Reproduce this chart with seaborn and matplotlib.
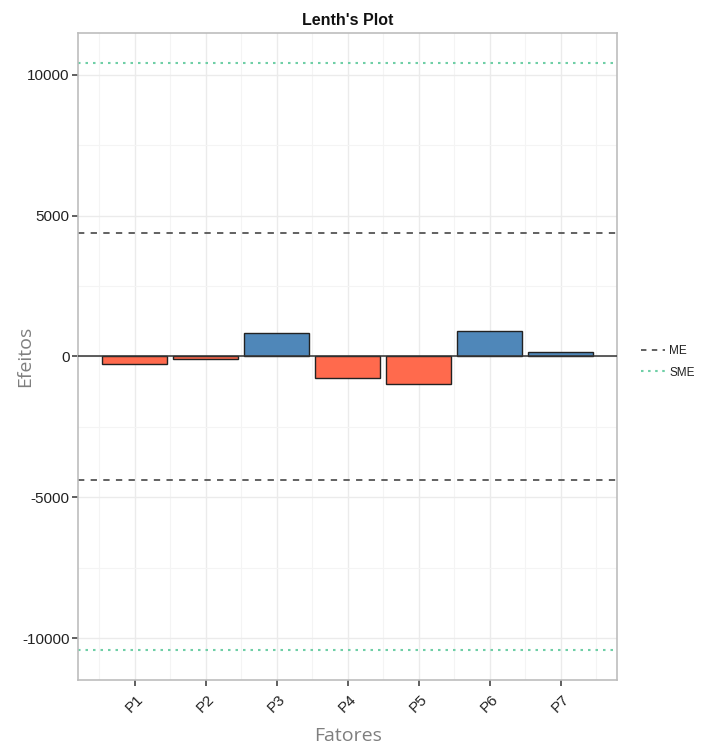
import matplotlib
matplotlib.use("Agg")
import matplotlib.pyplot as plt
from matplotlib.lines import Line2D
from matplotlib.ticker import MultipleLocator
import pandas as pd
import seaborn as sns

# Factor effects
factors = ["P1", "P2", "P3", "P4", "P5", "P6", "P7"]
effects = [-250, -90, 820, -770, -980, 890, 160]

# Lenth margins of error
me = 4380
sme = 10430

df = pd.DataFrame({"Fatores": factors, "Efeitos": effects})
df["sinal"] = ["pos" if v > 0 else "neg" for v in df["Efeitos"]]

sns.set_theme(style="white")
plt.rcParams["font.family"] = ["Liberation Sans", "DejaVu Sans"]
plt.rcParams["axes.unicode_minus"] = False

fig = plt.figure(figsize=(7.03, 7.46), dpi=100)
ax = fig.add_axes([0.111, 0.0885, 0.767, 0.8673])

sns.barplot(data=df, x="Fatores", y="Efeitos", hue="sinal",
            palette={"pos": "#4F87B9", "neg": "#FF6A4D"}, saturation=1,
            order=factors, dodge=False, width=0.92, legend=False,
            edgecolor="#222222", linewidth=1.0, ax=ax, zorder=3)

ax.axhline(0, color="#333333", lw=1.1, zorder=4)
for s in (1, -1):
    ax.axhline(s * me, color="#555555", lw=1.3, ls=(0, (3.5, 3.5)), zorder=2)
    ax.axhline(s * sme, color="#6FCFA6", lw=1.5, ls=(0, (1.2, 2.4)), zorder=2)

ax.set_xlim(-0.795, 6.795)
ax.set_ylim(-11480, 11480)
ax.yaxis.set_major_locator(MultipleLocator(5000))
ax.yaxis.set_minor_locator(MultipleLocator(2500))
ax.set_xticks(range(len(factors)), minor=False)
ax.set_xticks([i + 0.5 for i in range(-1, len(factors))], minor=True)

ax.grid(True, which="major", color="#EBEBEB", lw=1.0, zorder=0)
ax.grid(True, which="minor", color="#F4F4F4", lw=0.8, zorder=0)
ax.set_axisbelow(True)

for sp in ax.spines.values():
    sp.set_color("#BDBDBD")
    sp.set_linewidth(1.2)

ax.tick_params(axis="both", which="major", length=4, width=1.2, color="#444444",
               labelsize=11, labelcolor="#222222", pad=2, bottom=True, left=True)
ax.tick_params(axis="x", which="major", pad=5)
ax.tick_params(axis="both", which="minor", length=0)
for lab in ax.get_xticklabels():
    lab.set_rotation(45)
    lab.set_ha("center")
    lab.set_va("top")

ax.set_xlabel("Fatores", fontsize=14, color="#7F7F7F",
              family=["Open Sans", "DejaVu Sans"])
ax.set_ylabel("Efeitos", fontsize=14, color="#7F7F7F",
              family=["Open Sans", "DejaVu Sans"])
ax.yaxis.set_label_coords(-0.082, 0.5)
ax.xaxis.set_label_coords(0.5, -0.072)
ax.set_title("Lenth's Plot", fontsize=11.5, fontweight="bold", color="#111111", pad=6)

handles = [
    Line2D([], [], color="#555555", lw=1.3, ls=(0, (3, 3))),
    Line2D([], [], color="#6FCFA6", lw=1.5, ls=(0, (1.2, 2.2))),
]
leg = fig.legend(handles, ["ME", "SME"], loc="center left",
                 bbox_to_anchor=(0.905, 0.515), frameon=False,
                 fontsize=8.5, handlelength=2.0, handletextpad=0.4,
                 labelspacing=0.8, borderaxespad=0)
for t in leg.get_texts():
    t.set_color("#222222")

fig.savefig("out.png", dpi=100)
